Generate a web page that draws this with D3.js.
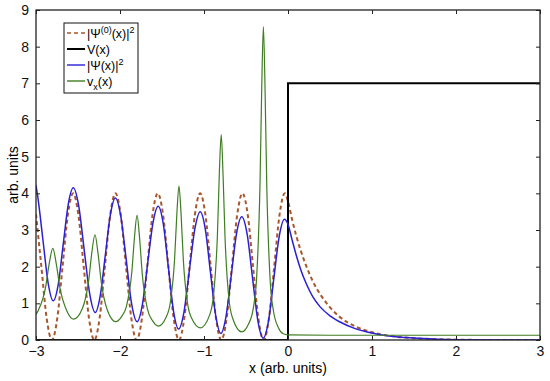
<!DOCTYPE html>
<html>
<head>
<meta charset="utf-8">
<script src="https://cdn.jsdelivr.net/npm/d3@7"></script>
<style>
  body { margin: 0; background: #fff; }
  text { font-family: "Liberation Sans", Arial, Helvetica, sans-serif; }
</style>
</head>
<body>
<div id="viz"></div>
<script>
// values
var xTicks = [-3, -2, -1, 0, 1, 2, 3];
var yTicks = [0, 1, 2, 3, 4, 5, 6, 7, 8, 9];

// |Psi^(0)(x)|^2  (dashed)
var psi0 = [
  [-3.000, 3.43], [-2.936, 2.00], [-2.873, 0.59], [-2.810, 0.00], [-2.747, 0.59],
  [-2.684, 2.00], [-2.621, 3.41], [-2.558, 4.00], [-2.495, 3.41], [-2.432, 2.00],
  [-2.369, 0.59], [-2.306, 0.00], [-2.243, 0.59], [-2.180, 2.00], [-2.117, 3.41],
  [-2.054, 4.00], [-1.991, 3.41], [-1.928, 2.00], [-1.865, 0.59], [-1.802, 0.00],
  [-1.739, 0.59], [-1.676, 2.00], [-1.613, 3.41], [-1.550, 4.00], [-1.487, 3.41],
  [-1.424, 2.00], [-1.361, 0.59], [-1.298, 0.00], [-1.235, 0.59], [-1.172, 2.00],
  [-1.109, 3.41], [-1.046, 4.00], [-0.983, 3.41], [-0.920, 2.00], [-0.857, 0.59],
  [-0.794, 0.00], [-0.731, 0.59], [-0.668, 2.00], [-0.605, 3.41], [-0.542, 4.00],
  [-0.479, 3.41], [-0.416, 2.00], [-0.353, 0.59], [-0.290, 0.00], [-0.227, 0.59],
  [-0.164, 2.00], [-0.101, 3.41], [-0.038, 4.00], [0.000, 3.78], [0.05, 3.27],
  [0.10, 2.83], [0.15, 2.45], [0.20, 2.12], [0.30, 1.58], [0.40, 1.19],
  [0.50, 0.89], [0.60, 0.66], [0.80, 0.37], [1.00, 0.21], [1.25, 0.10],
  [1.50, 0.05], [2.00, 0.01], [2.50, 0.00], [3.00, 0.00]
];

// V(x)
var potential = [[-3, 0], [0, 0], [0, 7], [3, 7]];

// |Psi(x)|^2
var psi = [
  [-3.000, 4.22], [-2.979, 3.91], [-2.918, 2.74], [-2.856, 1.56], [-2.795, 1.07],
  [-2.735, 1.52], [-2.676, 2.61], [-2.616, 3.70], [-2.556, 4.15],
  [-2.491, 3.65], [-2.426, 2.45], [-2.360, 1.25], [-2.295, 0.75],
  [-2.235, 1.21], [-2.175, 2.31], [-2.115, 3.41], [-2.055, 3.87],
  [-1.991, 3.38], [-1.926, 2.19], [-1.862, 0.99], [-1.797, 0.50],
  [-1.734, 0.96], [-1.671, 2.08], [-1.608, 3.19], [-1.545, 3.65],
  [-1.484, 3.16], [-1.424, 1.98], [-1.363, 0.79], [-1.302, 0.30],
  [-1.238, 0.77], [-1.174, 1.90], [-1.109, 3.03], [-1.045, 3.50],
  [-0.984, 3.02], [-0.923, 1.84], [-0.861, 0.67], [-0.800, 0.18],
  [-0.738, 0.64], [-0.675, 1.77], [-0.613, 2.90], [-0.550, 3.36],
  [-0.486, 2.88], [-0.423, 1.71], [-0.359, 0.53], [-0.295, 0.05],
  [-0.232, 0.52], [-0.169, 1.67], [-0.105, 2.82], [-0.042, 3.29],
  [0.000, 3.15], [0.05, 2.72], [0.10, 2.30], [0.15, 1.93], [0.20, 1.63],
  [0.26, 1.33], [0.30, 1.16], [0.38, 0.91], [0.50, 0.66], [0.62, 0.49],
  [0.80, 0.31], [1.00, 0.19], [1.20, 0.11], [1.40, 0.07], [1.60, 0.04],
  [2.00, 0.01], [2.50, 0.00], [3.00, 0.00]
];

// v_x(x)
var vx = [
  [-3.000, 0.70], [-2.970, 0.82], [-2.885, 1.45], [-2.843, 2.08], [-2.800, 2.50],
  [-2.758, 2.07], [-2.715, 1.42], [-2.630, 0.78], [-2.553, 0.57],
  [-2.448, 0.86], [-2.373, 1.62], [-2.336, 2.37], [-2.298, 2.87],
  [-2.261, 2.35], [-2.223, 1.58], [-2.148, 0.80], [-2.050, 0.50],
  [-1.983, 0.63], [-1.921, 0.94], [-1.859, 1.86], [-1.828, 2.79], [-1.797, 3.40],
  [-1.766, 2.76], [-1.735, 1.80], [-1.673, 0.84], [-1.611, 0.52], [-1.545, 0.38],
  [-1.454, 0.61], [-1.402, 1.01], [-1.350, 2.21], [-1.324, 3.40], [-1.298, 4.20],
  [-1.272, 3.39], [-1.246, 2.18], [-1.194, 0.97], [-1.142, 0.57], [-1.045, 0.33],
  [-0.930, 0.70], [-0.885, 1.25], [-0.840, 2.88], [-0.818, 4.51], [-0.795, 5.60],
  [-0.773, 4.49], [-0.750, 2.82], [-0.705, 1.16], [-0.660, 0.60], [-0.550, 0.22],
  [-0.473, 0.42], [-0.413, 0.87], [-0.373, 1.72], [-0.333, 4.29], [-0.313, 6.84],
  [-0.293, 8.55],
  [-0.273, 6.82], [-0.253, 4.24], [-0.213, 1.65], [-0.173, 0.79], [-0.113, 0.33],
  [-0.056, 0.17], [0.000, 0.14], [0.50, 0.13], [1.50, 0.13], [3.00, 0.13]
];

var width = 550, height = 381;
var margin = {top: 10, right: 10, bottom: 41, left: 36};
var w = width - margin.left - margin.right;   // 504
var h = height - margin.top - margin.bottom;  // 330

var svg = d3.select("#viz").append("svg")
    .attr("width", width)
    .attr("height", height);

var g = svg.append("g")
    .attr("transform", "translate(" + margin.left + "," + margin.top + ")");

var x = d3.scaleLinear().domain([-3, 3]).range([0, w]);
var y = d3.scaleLinear().domain([0, 9]).range([h, 0]);

g.append("clipPath").attr("id", "clip")
  .append("rect").attr("width", w).attr("height", h);

/* curves */
var line = d3.line()
    .x(function(d) { return x(d[0]); })
    .y(function(d) { return y(d[1]); })
    .curve(d3.curveMonotoneX);

var lineStep = d3.line()
    .x(function(d) { return x(d[0]); })
    .y(function(d) { return y(d[1]); });

var plot = g.append("g").attr("clip-path", "url(#clip)");

var series = [
  {key: "psi0", data: psi0, color: "#a8582c", width: 2, dash: "4,3", gen: line},
  {key: "V", data: potential, color: "#000", width: 2, dash: null, gen: lineStep},
  {key: "psi", data: psi, color: "#2b1fd4", width: 1.5, dash: null, gen: line},
  {key: "vx", data: vx, color: "#3f7d22", width: 1.2, dash: null, gen: line}
];

series.forEach(function(s) {
  plot.append("path")
      .datum(s.data)
      .attr("fill", "none")
      .attr("stroke", s.color)
      .attr("stroke-width", s.width)
      .attr("stroke-dasharray", s.dash)
      .attr("d", s.gen);
});

/* axes, ticks inside on all sides */
var fmt = function(d) { return d < 0 ? "\u2212" + Math.abs(d) : d; };

g.append("g")
    .attr("transform", "translate(0," + h + ")")
    .call(d3.axisBottom(x).tickValues(xTicks).tickFormat(fmt).tickSizeInner(-4).tickSizeOuter(0).tickPadding(6));
g.append("g")
    .call(d3.axisLeft(y).tickValues(yTicks).tickSizeInner(-4).tickSizeOuter(0).tickPadding(7));
g.append("g")
    .call(d3.axisTop(x).tickValues(xTicks).tickFormat("").tickSizeInner(-4).tickSizeOuter(0));
g.append("g")
    .attr("transform", "translate(" + w + ",0)")
    .call(d3.axisRight(y).tickValues(yTicks).tickFormat("").tickSizeInner(-4).tickSizeOuter(0));

g.selectAll(".domain").remove();
g.selectAll(".tick line").attr("stroke", "#222");
g.selectAll(".tick text").attr("font-size", 14).attr("fill", "#111");
g.append("rect")
    .attr("width", w).attr("height", h)
    .attr("fill", "none").attr("stroke", "#222").attr("stroke-width", 1.3);

/* axis labels */
svg.append("text")
    .attr("x", margin.left + w / 2).attr("y", 373)
    .attr("text-anchor", "middle").attr("font-size", 14)
    .text("x (arb. units)");

svg.append("text")
    .attr("transform", "translate(18," + (margin.top + 165) + ") rotate(-90)")
    .attr("text-anchor", "middle").attr("font-size", 14)
    .text("arb. units");

/* legend */
var legend = svg.append("g").attr("transform", "translate(64,23)");
legend.append("rect")
    .attr("width", 74).attr("height", 70)
    .attr("fill", "#fff").attr("stroke", "#111").attr("stroke-width", 1);

series.forEach(function(s, i) {
  var ly = 10 + i * 16;
  legend.append("line")
      .attr("x1", 3).attr("x2", 21).attr("y1", ly).attr("y2", ly)
      .attr("stroke", s.color).attr("stroke-width", s.key == "V" ? 2 : 1.4)
      .attr("stroke-dasharray", s.dash);
  var t = legend.append("text")
      .attr("x", 23).attr("y", ly + 4.5)
      .attr("font-size", 12.5);
  if (s.key == "psi0") {
    t.append("tspan").text("|\u03a8");
    t.append("tspan").attr("dy", -5).attr("font-size", 9).text("(0)");
    t.append("tspan").attr("dy", 5).text("(x)|");
    t.append("tspan").attr("dy", -5).attr("font-size", 9).text("2");
  } else if (s.key == "V") {
    t.text("V(x)");
  } else if (s.key == "psi") {
    t.append("tspan").text("|\u03a8(x)|");
    t.append("tspan").attr("dy", -5).attr("font-size", 9).text("2");
  } else {
    t.append("tspan").text("v");
    t.append("tspan").attr("dy", 4).attr("font-size", 9).text("x");
    t.append("tspan").attr("dy", -4).text("(x)");
  }
});
</script>
</body>
</html>
